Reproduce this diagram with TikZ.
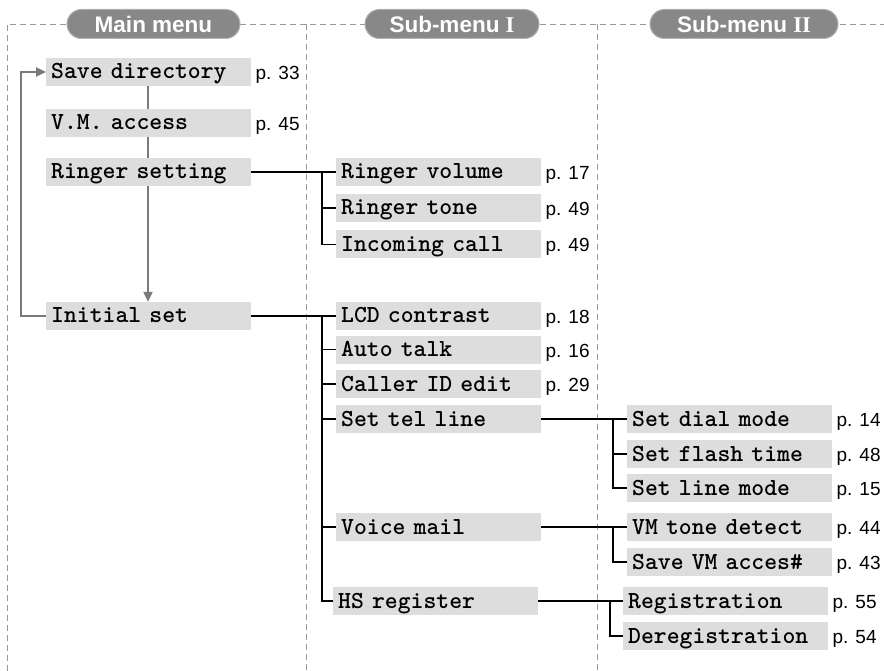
\documentclass[tikz,border=0pt]{standalone}
\usepackage{fontspec}
\setmainfont{Liberation Sans}
\newfontfamily\serf{Liberation Serif}
\usetikzlibrary{arrows.meta}
\definecolor{boxgray}{HTML}{DDDDDD}
\definecolor{pillgray}{HTML}{888888}
\definecolor{pillborder}{HTML}{B0B0B0}
\definecolor{dashgray}{HTML}{999999}
\definecolor{flowgray}{HTML}{7A7A7A}
\begin{document}
\begin{tikzpicture}[x=1pt,y=-1pt,
  itembox/.style={fill=boxgray, anchor=west, minimum height=28pt, text width=195pt,
    inner xsep=5pt, inner ysep=0pt, align=left, text height=17pt, text depth=3pt,
    font=\ttfamily\bfseries\fontsize{24.5}{26}\selectfont},
  pg/.style={anchor=west, inner sep=0pt, xshift=4pt, text height=14pt, text depth=0pt,
    yshift=-0.5pt, font=\fontsize{19}{22}\selectfont},
  pill/.style={fill=pillgray, draw=pillborder, line width=1pt, rounded corners=14.5pt,
    minimum height=29pt, inner sep=0pt, text=white,
    font=\bfseries\fontsize{22.5}{24}\selectfont},
  frame/.style={draw=dashgray, line width=0.9pt, dash pattern=on 6pt off 4pt},
  flow/.style={draw=flowgray, line width=2.2pt},
  conn/.style={draw=black, line width=1.4pt},
  tip/.style={-{Triangle[length=10pt,width=9pt]}}
]
\useasboundingbox (0,0) rectangle (884,671);

% frames
\draw[frame] (7,671) -- (7,24) -- (884,24);
\draw[frame] (306,24) -- (306,671);
\draw[frame] (597,24) -- (597,671);

% headers
\node[pill, minimum width=173pt] (h1) at (153.5,24) {Main menu};
\node[pill, minimum width=174pt] (h2) at (452,24) {Sub-menu {\serf I}};
\node[pill, minimum width=188pt] (h3) at (744,24) {Sub-menu {\serf II}};

% main menu
\node[itembox] (sd) at (46,72) {Save directory};
\node[pg] (psd) at (sd.east) {p. 33};
\node[itembox] (vma) at (46,123) {V.M. access};
\node[pg] (pvma) at (vma.east) {p. 45};
\node[itembox] (rs) at (46,172) {Ringer setting};
\node[itembox] (is) at (46,316) {Initial set};

% sub-menu I
\node[itembox] (rv) at (336,172) {Ringer volume};
\node[pg] (prv) at (rv.east) {p. 17};
\node[itembox] (rt) at (336,208) {Ringer tone};
\node[pg] (prt) at (rt.east) {p. 49};
\node[itembox] (ic) at (336,244.5) {Incoming call};
\node[pg] (pic) at (ic.east) {p. 49};
\node[itembox] (lcd) at (336,316) {LCD contrast};
\node[pg] (plcd) at (lcd.east) {p. 18};
\node[itembox] (at) at (336,349.5) {Auto talk};
\node[pg] (pat) at (at.east) {p. 16};
\node[itembox] (cid) at (336,384) {Caller ID edit};
\node[pg] (pcid) at (cid.east) {p. 29};
\node[itembox] (stl) at (336,419) {Set tel line};
\node[itembox] (vm) at (336,527) {Voice mail};
\node[itembox] (hs) at (333,601) {HS register};

% sub-menu II
\node[itembox] (sdm) at (627,419) {Set dial mode};
\node[pg] (psdm) at (sdm.east) {p. 14};
\node[itembox] (sft) at (627,454) {Set flash time};
\node[pg] (psft) at (sft.east) {p. 48};
\node[itembox] (slm) at (627,488) {Set line mode};
\node[pg] (pslm) at (slm.east) {p. 15};
\node[itembox] (vmt) at (627,527) {VM tone detect};
\node[pg] (pvmt) at (vmt.east) {p. 44};
\node[itembox] (svm) at (627,562) {Save VM acces\#};
\node[pg] (psvm) at (svm.east) {p. 43};
\node[itembox] (reg) at (623,601) {Registration};
\node[pg] (preg) at (reg.east) {p. 55};
\node[itembox] (dreg) at (623,636) {Deregistration};
\node[pg] (pdreg) at (dreg.east) {p. 54};

% main menu flow
\draw[flow] (sd.south -| 148,0) -- (vma.north -| 148,0);
\draw[flow] (vma.south -| 148,0) -- (rs.north -| 148,0);
\draw[flow, tip] (rs.south -| 148,0) -- (is.north -| 148,0);
\coordinate (lb) at (21,316);
\coordinate (lt) at (21,72);
\draw[flow, tip] (is.west) -- (lb) -- (lt) -- (sd.west);

% branch points
\coordinate (b1) at (322,172);
\coordinate (b2) at (322,316);
\coordinate (b3) at (613,419);
\coordinate (b4) at (613,527);
\coordinate (b5) at (610,601);

\draw[conn] (rs.east) -- (rv.west);
\draw[conn] (b1) |- (rt.west);
\draw[conn] (b1) |- (ic.west);

\draw[conn] (is.east) -- (lcd.west);
\draw[conn] (b2) |- (at.west);
\draw[conn] (b2) |- (cid.west);
\draw[conn] (b2) |- (stl.west);
\draw[conn] (b2) |- (vm.west);
\draw[conn] (b2) |- (hs.west);

\draw[conn] (stl.east) -- (sdm.west);
\draw[conn] (b3) |- (sft.west);
\draw[conn] (b3) |- (slm.west);

\draw[conn] (vm.east) -- (vmt.west);
\draw[conn] (b4) |- (svm.west);

\draw[conn] (hs.east) -- (reg.west);
\draw[conn] (b5) |- (dreg.west);
\end{tikzpicture}
\end{document}
